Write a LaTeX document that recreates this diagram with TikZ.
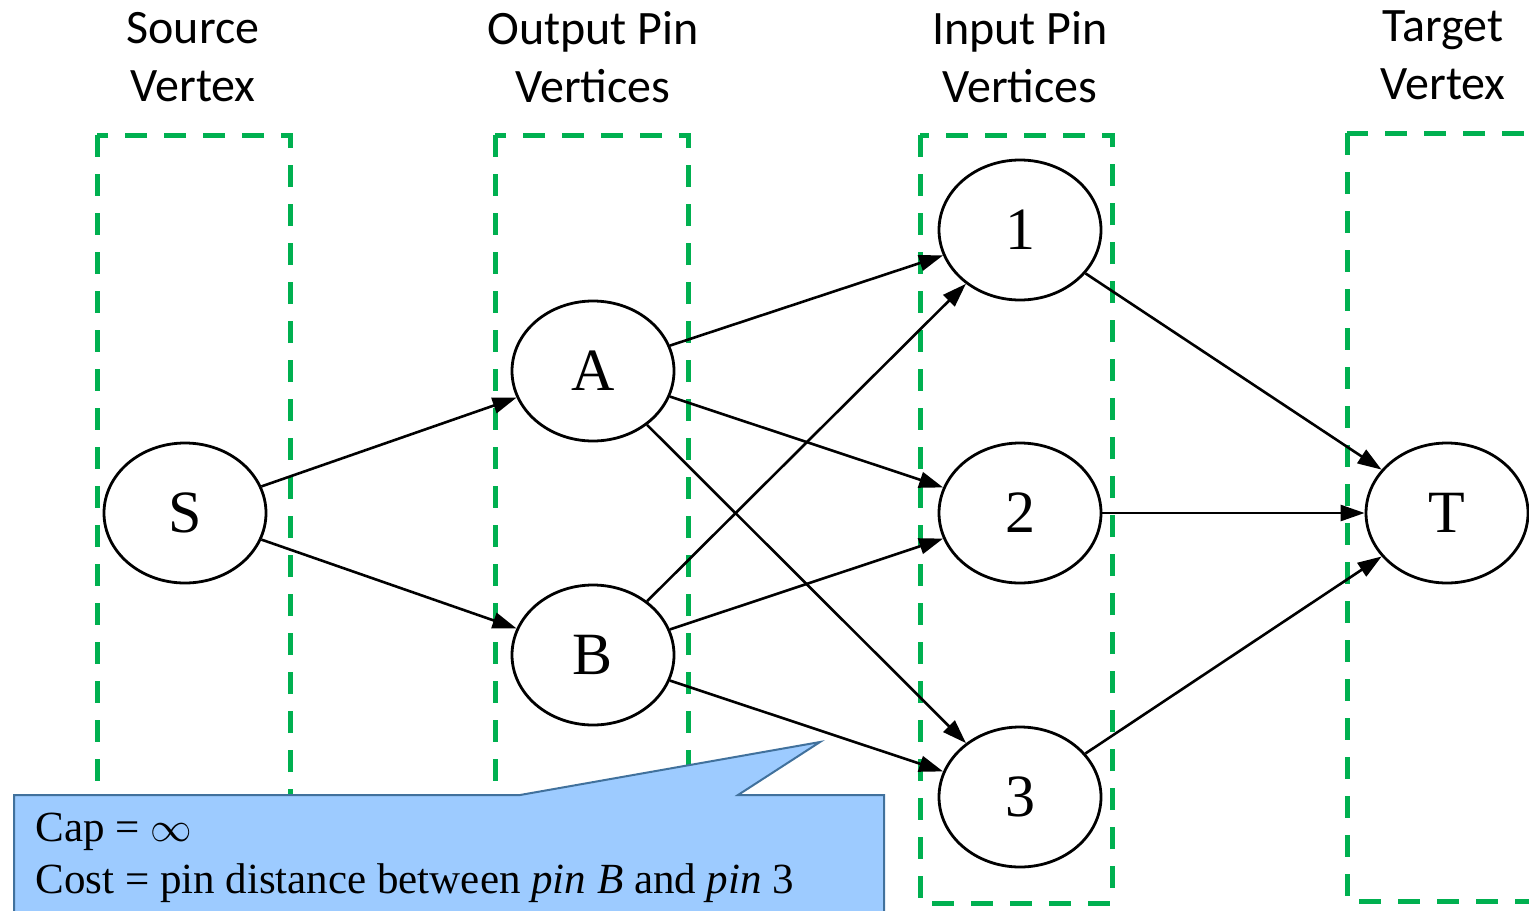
\documentclass[tikz,border=0pt]{standalone}
\usepackage{fontspec}
\setmainfont{Liberation Serif}
\newfontfamily\headfont{Carlito}
\usetikzlibrary{shapes.geometric,arrows.meta,positioning}
\definecolor{boxgreen}{HTML}{00B050}
\definecolor{callfill}{HTML}{9DCBFF}
\definecolor{calldraw}{HTML}{41719C}

\begin{document}
\begin{tikzpicture}[
  x=0.5pt,y=-0.5pt,
  vtx/.style={draw,ellipse,line width=1.4pt,fill=white,inner sep=0pt,
              minimum width=81pt,minimum height=70pt,
              font=\fontsize{30}{30}\selectfont},
  head/.style={align=center,font=\headfont\fontsize{24}{29}\selectfont},
  group/.style={draw=boxgreen,line width=2.5pt,dash pattern=on 11pt off 8.5pt},
  flow/.style={-{Triangle[length=12pt,width=8pt]},line width=1.3pt},
  callout/.style={draw=calldraw,fill=callfill,line width=1pt},
]
  \useasboundingbox (0,0) rectangle (1529,910);

  % column headers
  \node[head] (hs) at (193,57) {Source\\Vertex};
  \node[head] (ho) at (593,57) {Output Pin\\Vertices};
  \node[head] (hi) at (1020,57) {Input Pin\\Vertices};
  \node[head] (ht) at (1443,55) {Target\\Vertex};

  % dashed groups
  \draw[group] (97,135) rectangle (290,903);
  \draw[group] (495,135) rectangle (688,903);
  \draw[group] (920,135) rectangle (1112,903);
  \draw[group] (1347,133) rectangle (1545,901);

  % vertices
  \node[vtx] (s) at (185,513) {S};
  \node[vtx] (a) at (593,371) {A};
  \node[vtx] (b) at (593,655) {B};
  \node[vtx] (p1) at (1020,230) {1};
  \node[vtx] (p2) at (1020,513) {2};
  \node[vtx] (p3) at (1020,797) {3};
  \node[vtx] (t) at (1447,513) {T};

  \draw[flow] (s) -- (a);
  \draw[flow] (s) -- (b);
  \draw[flow] (a) -- (p1);
  \draw[flow] (a) -- (p2);
  \draw[flow] (a) -- (p3);
  \draw[flow] (b) -- (p1);
  \draw[flow] (b) -- (p2);
  \draw[flow] (b) -- (p3);
  \draw[flow] (p1) -- (t);
  \draw[flow] (p2) -- (t);
  \draw[flow] (p3) -- (t);

  % callout
  \coordinate (tip) at (820,742);
  \draw[callout] (14,795) -- (520,795) -- (tip) -- (738,795) -- (884,795)
    -- (884,915) -- (14,915) -- cycle;
  \node[anchor=north west,align=left,inner sep=0pt,
        font=\fontsize{21.5}{26}\selectfont] (note) at (35,813)
    {Cap = $\infty$\\Cost = pin distance between \textit{pin B} and \textit{pin} 3};
\end{tikzpicture}
\end{document}
